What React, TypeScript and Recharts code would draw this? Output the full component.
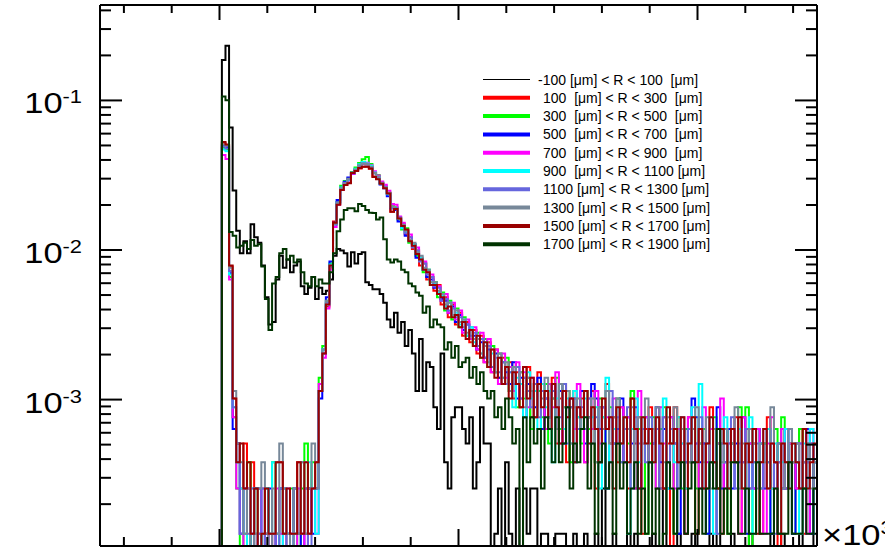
import React from "react";
import { LineChart, Line, XAxis, YAxis } from "recharts";

// ---------------- data (counts per bin, bins of width 15 starting at edge 10) ----------------
const NORM = 1.27e-4; // normalisation per entry
const BIN_EDGE0 = -500;
const BIN_WIDTH = 15;
const FIRST_BIN = 34;

const LABELS = [
  "-100 [μm] < R < 100  [μm]",
  "100  [μm] < R < 300  [μm]",
  "300  [μm] < R < 500  [μm]",
  "500  [μm] < R < 700  [μm]",
  "700  [μm] < R < 900  [μm]",
  "900  [μm] < R < 1100 [μm]",
  "1100 [μm] < R < 1300 [μm]",
  "1300 [μm] < R < 1500 [μm]",
  "1500 [μm] < R < 1700 [μm]",
  "1700 [μm] < R < 1900 [μm]",
];
const COLORS = ["#000000", "#ff0000", "#00ff00", "#0000ff", "#ff00ff", "#00ffff", "#6666dd", "#778899", "#990000", "#003300"];

const R_M100_100 = [
  1465, 1830, 520, 197, 106, 75, 90, 75, 117, 96,
  88, 62, 38, 25, 26, 50, 72, 60, 68, 56,
  62, 66, 45, 40, 44, 52, 37, 44, 40, 42,
  50, 72, 80, 78, 75, 61, 76, 64, 74, 76,
  48, 46, 43, 43, 40, 35, 27, 24, 30, 22,
  26, 18, 23, 16, 9, 20, 9, 14, 13, 7,
  5, 16, 3, 2, 6, 7, 7, 5, 4, 6,
  2, 3, 7, 4, 4, 0, 1, 2, 0, 3,
  1, 0, 2, 0, 2, 1, 2, 2, 0, 1,
  1, 0, 0, 1, 1, 1, 0, 0, 1, 0,
  0, 1, 0, 0, 1, 0, 2, 0, 0, 1,
  0, 0, 0, 1, 0, 1, 0, 0, 0, 0,
  1, 0, 0, 2, 0, 0, 0, 1, 0, 0,
  0, 1, 0, 0, 0, 0, 1, 0, 2, 0,
  0, 0, 1, 0, 0, 0, 0, 1, 0, 0,
  0, 0, 0, 1, 0, 0, 1, 0, 0, 0,
  0, 1, 0, 0, 0, 1,
];
const R_100_300 = [
  410, 395, 61, 8, 4, 2, 4, 2, 3, 1,
  0, 1, 1, 0, 1, 3, 3, 1, 1, 1,
  1, 3, 1, 2, 2, 2, 3, 9, 16, 33,
  60, 122, 160, 200, 215, 222, 260, 268, 276, 284,
  285, 275, 244, 236, 220, 205, 189, 142, 150, 130,
  118, 100, 96, 80, 78, 62, 64, 50, 52, 42,
  46, 34, 38, 28, 34, 25, 30, 21, 26, 19,
  23, 16, 21, 14, 19, 12, 17, 11, 15, 10,
  14, 8, 12, 7, 11, 13, 6, 9, 12, 5,
  9, 6, 11, 4, 8, 10, 3, 7, 9, 5,
  8, 3, 6, 9, 2, 7, 5, 10, 4, 6,
  3, 7, 5, 2, 8, 4, 6, 1, 5, 7,
  3, 5, 2, 6, 4, 0, 7, 3, 5, 2,
  6, 3, 1, 5, 4, 2, 7, 3, 4, 1,
  5, 2, 4, 6, 1, 3, 5, 2, 4, 3,
  1, 4, 6, 2, 3, 0, 5, 2, 4, 3,
  2, 5, 1, 3, 4, 2,
];
const R_300_500 = [
  380, 370, 52, 6, 2, 0, 1, 3, 0, 2,
  1, 0, 2, 1, 3, 0, 2, 1, 0, 2,
  1, 0, 2, 4, 1, 3, 2, 11, 18, 36,
  64, 118, 165, 212, 228, 236, 262, 280, 300, 318,
  330, 296, 262, 250, 222, 210, 190, 158, 152, 126,
  108, 110, 88, 86, 72, 70, 56, 58, 46, 48,
  38, 41, 31, 36, 27, 32, 24, 28, 21, 24,
  18, 22, 15, 20, 13, 18, 12, 16, 10, 15,
  9, 13, 7, 12, 8, 11, 5, 10, 9, 6,
  10, 4, 8, 11, 5, 7, 9, 3, 8, 6,
  4, 9, 5, 7, 3, 8, 6, 2, 7, 5,
  8, 3, 6, 4, 9, 2, 5, 6, 1, 4,
  6, 2, 5, 7, 3, 4, 1, 6, 2, 5,
  3, 6, 2, 4, 5, 1, 3, 6, 2, 4,
  5, 1, 4, 3, 7, 2, 7, 0, 3, 5,
  2, 4, 3, 1, 5, 3, 6, 2, 4, 1,
  3, 5, 2, 4, 1, 3,
];
const R_500_700 = [
  395, 385, 55, 5, 4, 1, 2, 0, 1, 2,
  2, 0, 1, 2, 0, 1, 2, 2, 1, 0,
  2, 1, 0, 1, 2, 1, 2, 8, 17, 38,
  66, 120, 170, 205, 225, 240, 255, 272, 292, 300,
  296, 285, 258, 245, 216, 204, 180, 150, 146, 122,
  112, 98, 92, 86, 70, 68, 58, 52, 50, 44,
  40, 37, 36, 30, 33, 26, 29, 23, 25, 20,
  21, 17, 19, 15, 17, 13, 16, 11, 14, 12,
  10, 14, 8, 11, 6, 10, 9, 7, 11, 5,
  8, 6, 10, 5, 9, 4, 7, 8, 3, 7,
  9, 4, 6, 10, 8, 5, 7, 2, 6, 4,
  5, 8, 3, 6, 4, 7, 2, 5, 6, 3,
  4, 7, 3, 5, 2, 6, 4, 1, 5, 3,
  5, 8, 6, 3, 4, 1, 5, 3, 7, 2,
  3, 5, 2, 4, 3, 6, 1, 4, 2, 5,
  4, 2, 5, 1, 3, 4, 2, 5, 3, 1,
  4, 2, 3, 5, 1, 3,
];
const R_700_900 = [
  340, 320, 50, 6, 2, 1, 0, 2, 1, 0,
  1, 2, 0, 1, 0, 2, 1, 0, 2, 1,
  0, 2, 1, 0, 1, 2, 1, 10, 15, 32,
  58, 112, 158, 198, 220, 230, 255, 266, 288, 296,
  302, 290, 265, 248, 226, 215, 196, 160, 158, 132,
  120, 106, 100, 84, 82, 70, 66, 56, 54, 45,
  45, 36, 40, 30, 35, 27, 31, 22, 27, 20,
  24, 17, 22, 14, 20, 12, 17, 10, 16, 11,
  13, 9, 14, 8, 12, 7, 11, 6, 10, 9,
  5, 10, 7, 12, 4, 9, 6, 8, 5, 10,
  6, 3, 8, 5, 9, 4, 7, 6, 3, 8,
  4, 7, 3, 6, 5, 2, 9, 4, 6, 3,
  5, 2, 7, 4, 3, 6, 2, 5, 4, 1,
  6, 3, 4, 2, 7, 3, 5, 1, 4, 8,
  2, 4, 5, 3, 1, 6, 3, 4, 2, 5,
  3, 1, 4, 6, 2, 3, 5, 2, 4, 3,
  2, 4, 3, 1, 5, 3,
];
const R_900_1100 = [
  370, 360, 54, 7, 3, 2, 1, 0, 2, 1,
  0, 1, 2, 1, 3, 1, 0, 2, 1, 0,
  1, 1, 3, 3, 3, 2, 1, 9, 17, 34,
  63, 118, 162, 206, 220, 232, 258, 275, 295, 305,
  298, 288, 260, 242, 218, 206, 186, 152, 148, 128,
  110, 104, 90, 86, 74, 70, 58, 58, 48, 47,
  41, 39, 33, 35, 29, 30, 25, 27, 21, 24,
  19, 21, 16, 19, 14, 16, 12, 15, 11, 13,
  12, 7, 11, 10, 6, 12, 8, 9, 5, 10,
  7, 9, 3, 8, 10, 5, 8, 4, 9, 6,
  5, 8, 4, 6, 7, 2, 6, 11, 3, 5,
  7, 4, 6, 1, 5, 8, 3, 6, 4, 5,
  3, 6, 4, 8, 2, 5, 3, 6, 4, 2,
  4, 7, 3, 10, 2, 4, 6, 1, 5, 3,
  6, 2, 4, 3, 5, 2, 4, 6, 1, 3,
  4, 3, 5, 2, 4, 1, 3, 5, 2, 4,
  3, 1, 4, 2, 5, 3,
];
const R_1100_1300 = [
  388, 376, 57, 7, 3, 1, 2, 1, 2, 0,
  1, 2, 0, 1, 1, 0, 2, 1, 0, 1,
  2, 1, 1, 2, 0, 2, 2, 9, 16, 35,
  61, 116, 164, 202, 222, 234, 260, 270, 286, 298,
  294, 282, 256, 240, 220, 208, 188, 150, 150, 130,
  114, 102, 96, 82, 78, 66, 64, 54, 52, 45,
  44, 36, 37, 31, 32, 28, 28, 24, 25, 21,
  22, 18, 20, 15, 18, 13, 15, 12, 14, 10,
  12, 10, 13, 8, 11, 9, 7, 10, 6, 9,
  8, 5, 9, 7, 6, 10, 4, 7, 8, 5,
  7, 5, 8, 4, 6, 3, 7, 5, 9, 4,
  6, 3, 5, 7, 2, 6, 4, 5, 3, 6,
  4, 5, 2, 6, 3, 5, 4, 2, 6, 3,
  5, 3, 4, 6, 2, 4, 3, 5, 1, 4,
  3, 4, 6, 2, 4, 3, 5, 2, 3, 4,
  2, 5, 3, 4, 1, 3, 4, 2, 5, 3,
  3, 4, 2, 3, 4, 2,
];
const R_1300_1500 = [
  400, 392, 60, 9, 4, 3, 1, 2, 0, 1,
  2, 3, 1, 0, 2, 1, 4, 2, 1, 0,
  2, 1, 3, 1, 2, 4, 2, 9, 17, 36,
  62, 118, 162, 204, 220, 236, 258, 272, 290, 298,
  296, 284, 258, 244, 222, 206, 190, 154, 148, 128,
  116, 106, 92, 88, 76, 72, 60, 58, 48, 48,
  42, 40, 34, 35, 29, 31, 26, 27, 22, 23,
  20, 20, 16, 18, 14, 17, 12, 16, 11, 14,
  9, 13, 10, 12, 7, 11, 9, 6, 10, 8,
  11, 6, 8, 5, 10, 7, 9, 4, 7, 8,
  5, 9, 6, 8, 3, 7, 5, 9, 4, 6,
  8, 4, 6, 5, 7, 3, 6, 4, 8, 3,
  5, 7, 4, 3, 6, 4, 7, 3, 5, 4,
  3, 5, 7, 4, 3, 6, 2, 5, 4, 3,
  5, 3, 4, 7, 2, 4, 3, 5, 4, 2,
  4, 3, 2, 7, 3, 4, 2, 3, 5, 3,
  4, 2, 3, 4, 2, 3,
];
const R_1500_1700 = [
  415, 400, 62, 8, 3, 4, 2, 3, 1, 2,
  0, 1, 2, 1, 1, 3, 3, 1, 2, 1,
  1, 3, 1, 3, 1, 2, 3, 9, 16, 34,
  62, 120, 158, 198, 214, 220, 258, 266, 278, 284,
  284, 276, 242, 234, 218, 204, 188, 142, 148, 128,
  114, 108, 90, 84, 74, 68, 58, 56, 46, 46,
  40, 38, 32, 33, 28, 29, 24, 26, 20, 23,
  18, 21, 15, 19, 13, 17, 11, 15, 10, 13,
  8, 12, 10, 7, 13, 8, 11, 6, 10, 7,
  9, 5, 10, 7, 4, 9, 6, 8, 3, 7,
  6, 9, 4, 7, 5, 3, 8, 5, 6, 2,
  7, 4, 6, 3, 8, 5, 2, 6, 4, 5,
  3, 6, 4, 2, 7, 4, 5, 3, 6, 1,
  4, 6, 3, 5, 2, 4, 6, 3, 2, 5,
  4, 2, 5, 3, 6, 2, 4, 3, 5, 1,
  3, 5, 2, 4, 3, 1, 4, 3, 2, 4,
  3, 2, 5, 2, 3, 4,
];
const R_1700_1900 = [
  835, 790, 104, 98, 82, 84, 88, 80, 92, 84,
  86, 61, 37, 23, 47, 52, 75, 80, 68, 72,
  65, 68, 56, 47, 45, 52, 45, 50, 47, 47,
  56, 75, 105, 126, 146, 150, 150, 143, 160, 155,
  146, 140, 139, 126, 130, 93, 68, 65, 68, 66,
  58, 56, 47, 45, 41, 39, 30, 33, 24, 27,
  25, 24, 17, 19, 15, 18, 13, 14, 15, 11,
  13, 10, 12, 9, 8, 9, 6, 7, 5, 8,
  6, 4, 5, 0, 6, 3, 6, 4, 5, 2,
  6, 5, 3, 6, 3, 4, 7, 2, 4, 3,
  5, 6, 2, 4, 1, 3, 4, 2, 3, 1,
  4, 2, 3, 1, 2, 3, 1, 2, 1, 3,
  1, 2, 0, 1, 3, 2, 1, 2, 3, 1,
  2, 3, 1, 2, 1, 2, 3, 2, 5, 1,
  2, 1, 3, 3, 1, 1, 2, 1, 1, 3,
  1, 1, 1, 1, 2, 1, 1, 1, 3, 1,
  1, 1, 2, 1, 1, 2,
];

const SERIES = [R_M100_100, R_100_300, R_300_500, R_500_700, R_700_900, R_900_1100, R_1100_1300, R_1300_1500, R_1500_1700, R_1700_1900];

const X_TICKS = [-400, -200, 0, 200, 400, 600, 800, 1000, 1200, 1400, 1600, 1800, 2000, 2200, 2400];
const X_MAJOR = [0, 1000, 2000];
const Y_TICKS = [
  2e-4, 3e-4, 4e-4, 5e-4, 6e-4, 7e-4, 8e-4, 9e-4,
  1e-3, 2e-3, 3e-3, 4e-3, 5e-3, 6e-3, 7e-3, 8e-3, 9e-3,
  1e-2, 2e-2, 3e-2, 4e-2, 5e-2, 6e-2, 7e-2, 8e-2, 9e-2,
  1e-1, 2e-1, 3e-1, 4e-1,
];
const Y_MAJOR = [1e-3, 1e-2, 1e-1];
const X_DOMAIN = [-500, 2500];
const Y_DOMAIN = [1.05e-4, 0.4345];
const EMPTY = 1e-7; // empty bins drawn below the axis floor

// ---------------- table ----------------
const NB = SERIES[0].length;
const table: any[] = [];
for (let j = -1; j <= NB; j++) {
  const row: any = { x: BIN_EDGE0 + BIN_WIDTH * (FIRST_BIN + j) };
  SERIES.forEach((arr, s) => {
    const c = j < 0 ? 0 : j >= NB ? arr[NB - 1] : arr[j];
    row["s" + s] = c > 0 ? c * NORM : EMPTY;
  });
  table.push(row);
}

// ---------------- layout ----------------
const W = 885, H = 548;
const PL = 100, PR = 817, PT = 5, PB = 546;
const FONT = "'Liberation Sans', Arial, Helvetica, sans-serif";

const isMajorY = (v: number) => Y_MAJOR.some((m) => Math.abs(m - v) / m < 1e-6);

const LeftTick = (p: any) => {
  const v = p.payload.value;
  const y = p.y;
  const major = isMajorY(v);
  const e = Math.round(Math.log10(v));
  return (
    <g>
      <line x1={PL} x2={PL + (major ? 22 : 11)} y1={y} y2={y} stroke="#000" strokeWidth={2} />
      {major && (
        <text transform={`translate(82,${y + 13}) scale(1.15,1)`} textAnchor="end" fontSize={30} fontFamily={FONT} fill="#000">
          10<tspan dy={-10} fontSize={19}>{String(e)}</tspan>
        </text>
      )}
    </g>
  );
};
const RightTick = (p: any) => {
  const major = isMajorY(p.payload.value);
  return <line x1={PR} x2={PR - (major ? 22 : 11)} y1={p.y} y2={p.y} stroke="#000" strokeWidth={2} />;
};
const TopTick = (p: any) => {
  const major = X_MAJOR.includes(p.payload.value);
  return <line x1={p.x} x2={p.x} y1={PT} y2={PT + (major ? 15 : 8)} stroke="#000" strokeWidth={2} />;
};
const BottomTick = (p: any) => {
  const major = X_MAJOR.includes(p.payload.value);
  return <line x1={p.x} x2={p.x} y1={PB} y2={PB - (major ? 17 : 9)} stroke="#000" strokeWidth={2} />;
};

export default function App() {
  return (
    <div style={{ position: "absolute", left: 0, top: 0, width: W, height: H, overflow: "hidden", background: "#fff" }}>
      <LineChart width={W} height={H} data={table} margin={{ top: 0, right: 0, bottom: 0, left: 0 }}>
        <XAxis xAxisId="b" dataKey="x" type="number" domain={X_DOMAIN} allowDataOverflow ticks={X_TICKS} interval={0}
          height={H - PB} tickLine={false} tick={<BottomTick />} axisLine={{ stroke: "#000", strokeWidth: 2 }} />
        <XAxis xAxisId="t" orientation="top" dataKey="x" type="number" domain={X_DOMAIN} allowDataOverflow ticks={X_TICKS} interval={0}
          height={PT} tickLine={false} tick={<TopTick />} axisLine={{ stroke: "#000", strokeWidth: 2 }} />
        <YAxis yAxisId="l" scale="log" type="number" domain={Y_DOMAIN} allowDataOverflow ticks={Y_TICKS} interval={0}
          width={PL} tickLine={false} tick={<LeftTick />} axisLine={{ stroke: "#000", strokeWidth: 2 }} />
        <YAxis yAxisId="r" orientation="right" scale="log" type="number" domain={Y_DOMAIN} allowDataOverflow ticks={Y_TICKS} interval={0}
          width={W - PR} tickLine={false} tick={<RightTick />} axisLine={{ stroke: "#000", strokeWidth: 2 }} />
        {SERIES.map((_, s) => (
          <Line key={s} xAxisId="b" yAxisId="l" type="stepAfter" dataKey={"s" + s} stroke={COLORS[s]} strokeWidth={2}
            dot={false} activeDot={false} isAnimationActive={false} />
        ))}
      </LineChart>
      <svg width={W} height={H} style={{ position: "absolute", left: 0, top: 0, pointerEvents: "none" }}>
        {LABELS.map((lab, s) => {
          const cy = 79.5 + 18.3 * s;
          return (
            <g key={s}>
              <line x1={483} x2={530} y1={cy} y2={cy} stroke={COLORS[s]} strokeWidth={s === 0 ? 1 : 4} />
              <text x={lab.startsWith("-") ? 538 : 543} y={cy + 5} fontSize={14} fontFamily={FONT} fill="#000" style={{ whiteSpace: "pre" }}>
                {lab}
              </text>
            </g>
          );
        })}
        <text transform={`translate(822,545) scale(1.15,1)`} fontSize={30} fontFamily={FONT} fill="#000">
          ×10<tspan dy={-11} fontSize={19}>3</tspan>
        </text>
      </svg>
    </div>
  );
}
